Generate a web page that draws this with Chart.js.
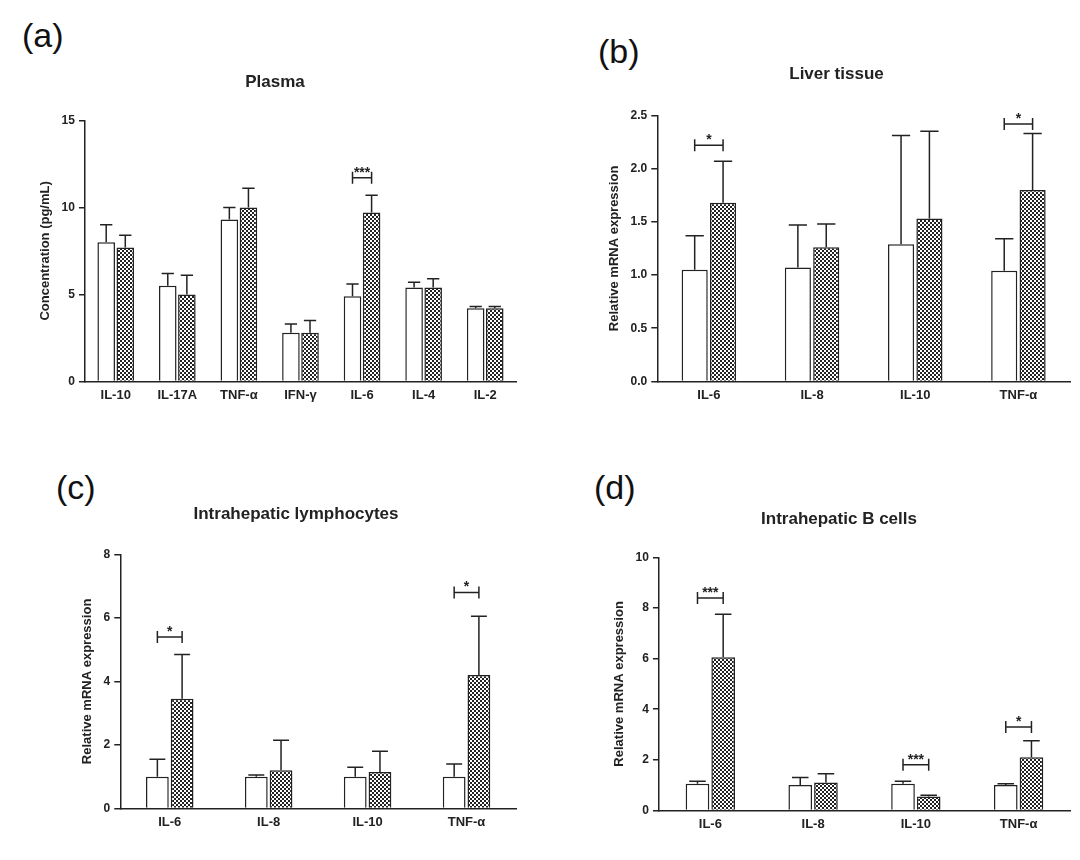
<!DOCTYPE html>
<html>
<head>
<meta charset="utf-8">
<script src="https://cdn.jsdelivr.net/npm/chart.js@4.4.1/dist/chart.umd.min.js"></script>
<style>
  body { margin: 0; background: #fff; width: 1080px; height: 860px; position: relative; font-family: "Liberation Sans", Arial, sans-serif; }
  .panel { position: absolute; }
  .letter { position: absolute; font-size: 34px; color: #111; }
</style>
</head>
<body>
<div class="letter" style="left:22px;top:16px">(a)</div>
<div class="letter" style="left:598px;top:32px">(b)</div>
<div class="letter" style="left:56px;top:468px">(c)</div>
<div class="letter" style="left:594px;top:468px">(d)</div>
<div class="panel" style="left:0;top:60px;width:540px;height:349px"><canvas id="ca"></canvas></div>
<div class="panel" style="left:560px;top:64px;width:520px;height:345px"><canvas id="cb"></canvas></div>
<div class="panel" style="left:40px;top:504px;width:500px;height:332px"><canvas id="cc"></canvas></div>
<div class="panel" style="left:560px;top:509px;width:520px;height:329px"><canvas id="cd"></canvas></div>
<script>
// (a) Plasma
const plasmaCats = ["IL-10", "IL-17A", "TNF-α", "IFN-γ", "IL-6", "IL-4", "IL-2"];
const plasmaCtrl = [8.0, 5.5, 9.3, 2.8, 4.9, 5.4, 4.2];
const plasmaCtrlErr = [9.0, 6.2, 10.0, 3.3, 5.6, 5.7, 4.3];
const plasmaTreat = [7.7, 5.0, 10.0, 2.8, 9.7, 5.4, 4.2];
const plasmaTreatErr = [8.4, 6.1, 11.1, 3.5, 10.7, 5.9, 4.3];
const plasmaSig = [null, null, null, null, "***", null, null];
const plasmaSigY = [0, 0, 0, 0, 11.7, 0, 0];

// (b) Liver tissue
const geneCats = ["IL-6", "IL-8", "IL-10", "TNF-α"];
const liverCtrl = [1.05, 1.07, 1.29, 1.04];
const liverCtrlErr = [1.37, 1.47, 2.31, 1.34];
const liverTreat = [1.68, 1.26, 1.53, 1.80];
const liverTreatErr = [2.07, 1.48, 2.35, 2.33];
const liverSig = ["*", null, null, "*"];
const liverSigY = [2.22, 0, 0, 2.42];

// (c) Intrahepatic lymphocytes
const lymCtrl = [1.0, 1.0, 1.0, 1.0];
const lymCtrlErr = [1.55, 1.05, 1.3, 1.4];
const lymTreat = [3.45, 1.2, 1.15, 4.2];
const lymTreatErr = [4.85, 2.15, 1.8, 6.05];
const lymSig = ["*", null, null, "*"];
const lymSigY = [5.4, 0, 0, 6.8];

// (d) Intrahepatic B cells
const bCtrl = [1.05, 1.0, 1.05, 1.0];
const bCtrlErr = [1.15, 1.3, 1.15, 1.05];
const bTreat = [6.05, 1.1, 0.55, 2.1];
const bTreatErr = [7.75, 1.45, 0.6, 2.75];
const bSig = ["***", null, "***", "*"];
const bSigY = [8.4, 0, 1.8, 3.3];

const FONT = "'Liberation Sans', Arial, sans-serif";

function checker() {
  const c = document.createElement("canvas");
  c.width = 4; c.height = 4;
  const g = c.getContext("2d");
  g.fillStyle = "#fff"; g.fillRect(0, 0, 4, 4);
  g.fillStyle = "#222"; g.fillRect(0, 0, 2, 2); g.fillRect(2, 2, 2, 2);
  return g.createPattern(c, "repeat");
}

const errorBars = {
  id: "errorBars",
  afterDatasetsDraw(chart) {
    const ctx = chart.ctx, y = chart.scales.y;
    const errs = chart.options.plugins.errorBars;
    ctx.save();
    ctx.strokeStyle = "#222"; ctx.lineWidth = 1.5;
    chart.data.datasets.forEach((ds, di) => {
      chart.getDatasetMeta(di).data.forEach((bar, i) => {
        const ey = y.getPixelForValue(errs.err[di][i]);
        const w = bar.width * 0.35;
        ctx.beginPath();
        ctx.moveTo(bar.x, bar.y); ctx.lineTo(bar.x, ey);
        ctx.moveTo(bar.x - w, ey); ctx.lineTo(bar.x + w, ey);
        ctx.stroke();
      });
    });
    // significance brackets
    errs.sig.forEach((s, i) => {
      if (!s) return;
      const a = chart.getDatasetMeta(0).data[i], b = chart.getDatasetMeta(1).data[i];
      const py = y.getPixelForValue(errs.sigY[i]);
      ctx.beginPath();
      ctx.moveTo(a.x, py + 6); ctx.lineTo(a.x, py - 6);
      ctx.moveTo(a.x, py); ctx.lineTo(b.x, py);
      ctx.moveTo(b.x, py + 6); ctx.lineTo(b.x, py - 6);
      ctx.stroke();
      ctx.fillStyle = "#222";
      ctx.font = "bold 14px " + FONT;
      ctx.textAlign = "center"; ctx.textBaseline = "bottom";
      ctx.fillText(s, (a.x + b.x) / 2, py + 2);
    });
    ctx.restore();
  }
};

function makePanel(id, title, cats, ctrl, treat, cErr, tErr, sig, sigY, ymax, step, yTitle, catPct, pad, titleGap) {
  new Chart(document.getElementById(id), {
    type: "bar",
    data: {
      labels: cats,
      datasets: [
        { data: ctrl, backgroundColor: "#fff", borderColor: "#222", borderWidth: 1.5, barPercentage: 0.92, categoryPercentage: catPct },
        { data: treat, backgroundColor: checker(), borderColor: "#222", borderWidth: 1.5, barPercentage: 0.92, categoryPercentage: catPct }
      ]
    },
    options: {
      responsive: true,
      maintainAspectRatio: false,
      animation: false,
      layout: { padding: pad },
      plugins: {
        legend: { display: false },
        tooltip: { enabled: false },
        title: { display: true, text: title, color: "#222", font: { family: FONT, size: 17, weight: "bold" }, padding: { top: 0, bottom: titleGap } },
        errorBars: { err: [cErr, tErr], sig: sig, sigY: sigY }
      },
      scales: {
        x: {
          grid: { display: true, drawOnChartArea: false, drawTicks: false },
          border: { color: "#222", width: 1.5 },
          ticks: { color: "#222", font: { family: FONT, size: 13, weight: "bold" }, padding: 6, maxRotation: 0, autoSkip: false }
        },
        y: {
          min: 0, max: ymax,
          grid: { drawOnChartArea: false, drawTicks: true, tickLength: 6, color: "#222", lineWidth: 1.5 },
          border: { color: "#222", width: 1.5 },
          ticks: { stepSize: step, color: "#222", font: { family: FONT, size: 12, weight: "bold" }, padding: 4,
                   callback: v => step < 1 ? v.toFixed(1) : v },
          title: { display: true, text: yTitle, color: "#222", font: { family: FONT, size: 13, weight: "bold" } }
        }
      }
    },
    plugins: [errorBars]
  });
}

makePanel("ca", "Plasma", plasmaCats, plasmaCtrl, plasmaTreat, plasmaCtrlErr, plasmaTreatErr, plasmaSig, plasmaSigY,
  15, 5, "Concentration (pg/mL)", 0.62, { left: 34, right: 24, top: 12, bottom: 0 }, 28);
makePanel("cb", "Liver tissue", geneCats, liverCtrl, liverTreat, liverCtrlErr, liverTreatErr, liverSig, liverSigY,
  2.5, 0.5, "Relative mRNA expression", 0.55, { left: 43, right: 10, top: 0, bottom: 0 }, 31);
makePanel("cc", "Intrahepatic lymphocytes", geneCats, lymCtrl, lymTreat, lymCtrlErr, lymTreatErr, lymSig, lymSigY,
  8, 2, "Relative mRNA expression", 0.5, { left: 36, right: 24, top: 0, bottom: 0 }, 30);
makePanel("cd", "Intrahepatic B cells", geneCats, bCtrl, bTreat, bCtrlErr, bTreatErr, bSig, bSigY,
  10, 2, "Relative mRNA expression", 0.5, { left: 48, right: 10, top: 0, bottom: 0 }, 28);
</script>
</body>
</html>
